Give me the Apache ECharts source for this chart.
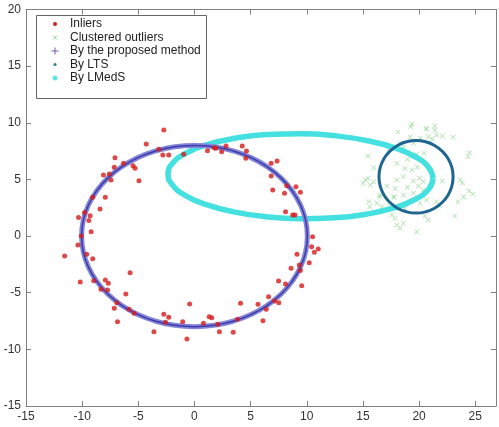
<!DOCTYPE html>
<html>
<head>
<meta charset="utf-8">
<script src="https://cdn.jsdelivr.net/npm/echarts@6/dist/echarts.min.js"></script>
<style>
html,body{margin:0;padding:0;background:#fff;}
#chart{width:499px;height:427px;}
</style>
</head>
<body>
<div id="chart"></div>
<script>
// ---- data ----
const xTickLabels = [-15, -10, -5, 0, 5, 10, 15, 20, 25];
const yTickLabels = [-15, -10, -5, 0, 5, 10, 15, 20];
const legendLabels = ['Inliers', 'Clustered outliers', 'By the proposed method', 'By LTS', 'By LMedS'];

const inliers = [
  [-2.73,9.36],[-4.29,8.13],[-7.08,6.92],[-6.32,6.43],[-7.14,6.07],[-5.47,6.21],[-5.29,5.98],
  [-8.11,5.39],[-7.58,5.48],[-7.43,4.95],[-4.94,4.89],[-3.17,7.66],[-2.82,7.16],[-2.29,7.16],
  [-0.96,7.22],[-9.06,3.42],[-7.94,3.42],[-8.41,2.39],[-9.79,2.07],[-10.32,1.65],[-9.29,1.80],
  [-9.41,1.37],[-9.20,0.38],[-10.08,0.0],[-10.38,-0.79],[-11.56,-1.76],[-9.59,-1.61],[-9.06,-2.00],
  [-5.73,-3.23],[-10.17,-4.06],[-8.97,-3.94],[-7.94,-3.88],[-7.67,-4.17],[-8.32,-4.70],[-7.74,-4.76],
  [-6.11,-5.11],[-6.91,-5.88],[-7.14,-6.37],[-5.82,-6.46],[-5.38,-6.82],[-6.85,-7.56],[-2.73,-6.90],
  [-2.29,-7.17],[-2.58,-7.61],[-1.05,-7.56],[-0.43,-6.00],[-3.61,-8.44],[-0.67,-9.08],[10.52,-0.06],
  [10.43,-0.94],[11.02,-1.14],[10.67,-1.43],[9.13,-1.61],[10.22,-2.35],[9.34,-2.56],[8.60,-2.85],
  [9.43,-3.05],[7.49,-3.97],[8.11,-4.23],[9.55,-4.38],[6.60,-5.35],[7.13,-5.73],[7.51,-5.88],
  [4.10,-5.94],[5.66,-6.02],[6.39,-6.47],[6.10,-7.47],[1.31,-7.12],[1.54,-7.21],[0.80,-7.70],
  [2.07,-7.79],[3.83,-7.35],[2.22,-8.44],[3.45,-8.49],[1.16,7.54],[1.77,7.80],[2.42,7.45],
  [2.81,7.95],[4.25,7.95],[4.63,7.51],[4.57,6.87],[6.83,6.43],[7.36,6.62],[6.83,5.30],
  [6.97,4.07],[8.02,3.78],[8.22,4.45],[9.04,4.36],[9.43,3.86],[8.11,2.15],[8.75,1.86],[8.95,1.86],
  [1.90,7.75]
];

const outliers = [
  [19.35,9.89],[19.26,9.65],[20.61,9.42],[21.40,9.71],[18.11,9.21],[21.55,8.92],[22.08,8.83],
  [23.03,8.72],[20.08,8.63],[20.82,8.77],[21.17,8.54],[19.50,8.19],[18.61,7.89],[17.29,7.66],
  [24.49,7.36],[24.35,7.00],[19.79,7.22],[20.43,7.30],[18.97,6.77],[18.02,6.42],[18.75,5.98],
  [19.35,5.83],[19.85,6.07],[20.03,5.10],[15.44,5.10],[15.22,4.95],[15.96,4.80],[18.02,4.95],
  [18.61,5.24],[19.50,4.86],[20.38,4.80],[22.08,4.86],[23.67,4.95],[23.85,4.71],[17.14,4.42],
  [17.87,4.21],[18.97,4.30],[19.94,4.42],[20.38,4.06],[19.50,3.77],[18.61,3.62],[16.55,3.62],
  [17.78,3.42],[15.52,3.03],[15.61,2.59],[16.70,2.59],[17.43,2.59],[18.70,2.45],[20.08,2.89],
  [20.67,3.18],[21.55,3.03],[21.85,2.65],[23.47,3.03],[24.79,3.71],[24.44,3.98],[17.87,1.57],
  [18.02,0.98],[18.31,0.68],[19.79,0.38],[20.82,1.42],[20.52,1.77],[23.17,1.77],[23.96,3.47],
  [15.44,7.06],[15.96,6.03],[15.02,4.66],[15.66,4.51],[16.49,3.47],[16.26,2.89],[17.73,3.47],
  [18.31,8.19],[19.20,8.77],[21.40,9.36],[20.67,9.51],[17.58,1.86],[18.61,1.13]
];

// fitted curves, points
const proposedCurve = [
  [10.05,0],[9.90,1.39],[9.44,2.74],[8.70,4.00],[7.70,5.14],[6.46,6.13],[5.03,6.93],[3.44,7.52],[1.74,7.88],
  [0,8.0],[-1.74,7.88],[-3.44,7.52],[-5.03,6.93],[-6.46,6.13],[-7.70,5.14],[-8.70,4.00],[-9.44,2.74],[-9.90,1.39],
  [-10.05,0],[-9.90,-1.39],[-9.44,-2.74],[-8.70,-4.00],[-7.70,-5.14],[-6.46,-6.13],[-5.03,-6.93],[-3.44,-7.52],[-1.74,-7.88],
  [0,-8.0],[1.74,-7.88],[3.44,-7.52],[5.03,-6.93],[6.46,-6.13],[7.70,-5.14],[8.70,-4.00],[9.44,-2.74],[9.90,-1.39],
  [10.05,0]
];
const ltsCurve = [
  [23.03,5.23],[22.92,6.06],[22.59,6.83],[22.06,7.49],[21.38,8.00],[20.58,8.32],[19.73,8.43],
  [18.88,8.32],[18.08,8.00],[17.40,7.49],[16.87,6.83],[16.54,6.06],[16.43,5.23],
  [16.54,4.40],[16.87,3.63],[17.40,2.97],[18.08,2.46],[18.88,2.14],[19.73,2.03],
  [20.58,2.14],[21.38,2.46],[22.06,2.97],[22.59,3.63],[22.92,4.40],[23.03,5.23]
];
const lmedsCurve = [
  [21.25,5.07],[20.86,6.05],[19.70,6.98],[17.84,7.79],[15.41,8.42],[12.57,8.85],[9.52,9.03],
  [6.46,8.96],[3.61,8.63],[1.15,8.08],[-0.73,7.33],[-1.93,6.45],[-2.35,5.49],
  [-1.96,4.51],[-0.80,3.58],[1.06,2.78],[3.49,2.14],[6.33,1.71],[9.38,1.53],
  [12.44,1.61],[15.29,1.93],[17.75,2.48],[19.63,3.23],[20.83,4.11],[21.25,5.07]
];

// ---- chart ----
const FONT = 'Liberation Sans, Arial, sans-serif';
const axisGray = '#808080';
const chart = echarts.init(document.getElementById('chart'), null, {renderer: 'canvas'});

const baseX = {
  type: 'value', min: -15, max: 26.85, interval: 5,
  axisLine: {show: true, onZero: false, lineStyle: {color: axisGray, width: 1}},
  axisTick: {show: true, inside: true, length: 5, lineStyle: {color: axisGray}},
  splitLine: {show: false}
};
const baseY = {
  type: 'value', min: -15, max: 20, interval: 5,
  axisLine: {show: true, onZero: false, lineStyle: {color: axisGray, width: 1}},
  axisTick: {show: true, inside: true, length: 5, lineStyle: {color: axisGray}},
  splitLine: {show: false}
};

const xShape = 'path://M0,1L1,0L5,4L9,0L10,1L6,5L10,9L9,10L5,6L1,10L0,9L4,5Z';

const legendRows = [24, 37.5, 51, 64.5, 78];
const legendGraphics = [
  {type: 'rect', shape: {x: 36.5, y: 15.5, width: 170, height: 83}, style: {fill: '#fff', stroke: '#666', lineWidth: 1}, z: 100},
  {type: 'circle', shape: {cx: 55, cy: legendRows[0], r: 2}, style: {fill: '#d41c1c'}, z: 101},
  {type: 'polyline', shape: {points: [[53, legendRows[1] - 2], [57, legendRows[1] + 2]]}, style: {stroke: '#8ed48e', lineWidth: 1}, z: 101},
  {type: 'polyline', shape: {points: [[57, legendRows[1] - 2], [53, legendRows[1] + 2]]}, style: {stroke: '#8ed48e', lineWidth: 1}, z: 101},
  {type: 'polyline', shape: {points: [[51.5, legendRows[2]], [58.5, legendRows[2]]]}, style: {stroke: '#7a5aa8', lineWidth: 1}, z: 101},
  {type: 'polyline', shape: {points: [[55, legendRows[2] - 3.5], [55, legendRows[2] + 3.5]]}, style: {stroke: '#7a5aa8', lineWidth: 1}, z: 101},
  {type: 'circle', shape: {cx: 55, cy: legendRows[3], r: 1.6}, style: {fill: '#2f7f8a'}, z: 101},
  {type: 'circle', shape: {cx: 55, cy: legendRows[4], r: 2.5}, style: {fill: '#5ee6e6'}, z: 101}
];
legendLabels.forEach(function (label, i) {
  legendGraphics.push({
    type: 'text', x: 70, y: legendRows[i], z: 101,
    style: {text: label, fill: '#222', font: '12px ' + FONT, textVerticalAlign: 'middle', verticalAlign: 'middle'}
  });
});

const option = {
  backgroundColor: '#fff',
  animation: false,
  grid: {left: 26, top: 9.5, width: 474, height: 396.5, containLabel: false},
  xAxis: [
    Object.assign({}, baseX, {
      position: 'bottom',
      axisLabel: {color: '#333', fontSize: 12, fontFamily: FONT, margin: 5,
        formatter: function (v) { return xTickLabels.indexOf(v) >= 0 ? String(v) : ''; }}
    }),
    Object.assign({}, baseX, {position: 'top', axisLabel: {show: false}})
  ],
  yAxis: [
    Object.assign({}, baseY, {
      position: 'left',
      axisLabel: {color: '#333', fontSize: 12, fontFamily: FONT, margin: 5,
        formatter: function (v) { return yTickLabels.indexOf(v) >= 0 ? String(v) : ''; }}
    }),
    Object.assign({}, baseY, {position: 'right', axisLabel: {show: false}})
  ],
  graphic: legendGraphics,
  series: [
    {
      name: 'By LMedS', type: 'line', data: lmedsCurve, smooth: true, showSymbol: false,
      lineStyle: {color: '#45e0e0', width: 5.5}, z: 2
    },
    {
      name: 'By the proposed method', type: 'line', data: proposedCurve, smooth: true, showSymbol: false,
      lineStyle: {color: '#8585d6', width: 5}, z: 3
    },
    {
      name: 'proposed core', type: 'line', data: proposedCurve, smooth: true, showSymbol: false,
      lineStyle: {color: '#3b3bb0', width: 1.5}, z: 3
    },
    {
      name: 'By LTS', type: 'line', data: ltsCurve, smooth: true, showSymbol: false,
      lineStyle: {color: '#1e6590', width: 3}, z: 4
    },
    {
      name: 'Inliers', type: 'scatter', data: inliers, symbol: 'circle', symbolSize: 5,
      itemStyle: {color: '#d41c1c'}, z: 5
    },
    {
      name: 'Clustered outliers', type: 'scatter', data: outliers, symbol: xShape, symbolSize: 5,
      itemStyle: {color: '#93d693'}, z: 1
    }
  ]
};
chart.setOption(option);
</script>
</body>
</html>
